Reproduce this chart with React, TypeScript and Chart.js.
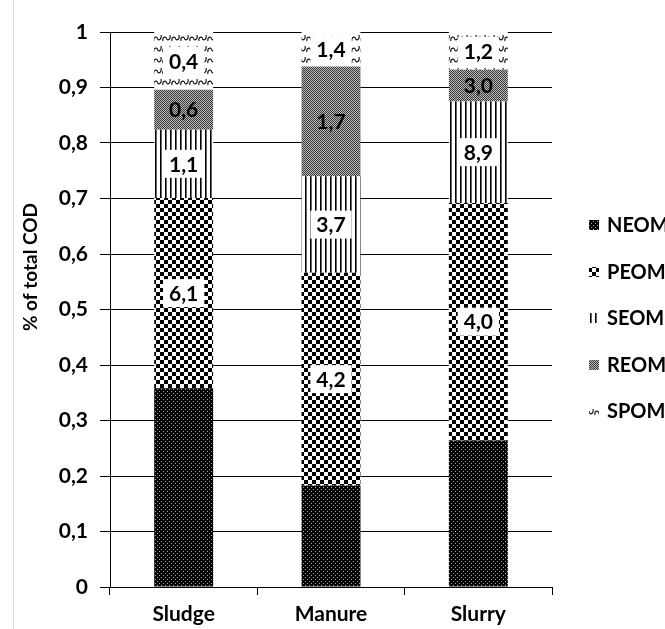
import React, { useEffect, useRef } from "react";
import { Chart, registerables } from "chart.js";

Chart.register(...registerables);

const categories = ["Sludge", "Manure", "Slurry"];
const seriesNames = ["NEOM", "PEOM", "SEOM", "REOM", "SPOM"];
const neom = [0.358, 0.183, 0.264];
const peom = [0.343, 0.383, 0.428];
const seom = [0.123, 0.174, 0.183];
const reom = [0.072, 0.198, 0.057];
const spom = [0.104, 0.062, 0.068];
const neomLabels = ["", "", ""];
const peomLabels = ["6,1", "4,2", "4,0"];
const seomLabels = ["1,1", "3,7", "8,9"];
const reomLabels = ["0,6", "1,7", "3,0"];
const spomLabels = ["0,4", "1,4", "1,2"];
const yTitle = "% of total COD";

const FONT = "Lato, 'Open Sans', sans-serif";

function makePattern(kind: string): CanvasPattern | string {
  const c = document.createElement("canvas");
  let w = 4, h = 4;
  if (kind === "neom") { w = 4; h = 4; }
  if (kind === "peom") { w = 8; h = 8; }
  if (kind === "seom") { w = 5; h = 1; }
  if (kind === "reom") { w = 2; h = 2; }
  if (kind === "spom") { w = 9; h = 11; }
  c.width = w; c.height = h;
  const x = c.getContext("2d")!;
  if (kind === "neom") {
    x.fillStyle = "#000"; x.fillRect(0, 0, w, h);
    x.fillStyle = "#a8a8a8"; x.fillRect(1, 1, 1, 1); x.fillRect(3, 3, 1, 1);
  } else if (kind === "peom") {
    x.fillStyle = "#fff"; x.fillRect(0, 0, w, h);
    x.fillStyle = "#000"; x.fillRect(0, 0, 4, 4); x.fillRect(4, 4, 4, 4);
  } else if (kind === "seom") {
    x.fillStyle = "#fff"; x.fillRect(0, 0, w, h);
    x.fillStyle = "#000"; x.fillRect(0, 0, 1, 1);
    x.fillStyle = "#666"; x.fillRect(1, 0, 1, 1);
  } else if (kind === "reom") {
    x.fillStyle = "#b8b8b8"; x.fillRect(0, 0, w, h);
    x.fillStyle = "#3a3a3a"; x.fillRect(0, 0, 1, 1); x.fillRect(1, 1, 1, 1);
  } else if (kind === "spom") {
    x.fillStyle = "#fff"; x.fillRect(0, 0, w, h);
    x.strokeStyle = "#000"; x.lineWidth = 1.1;
    x.beginPath();
    x.moveTo(1, 8);
    x.bezierCurveTo(0, 4, 4, 3, 4.5, 5.5);
    x.bezierCurveTo(5, 8, 9, 7, 8, 2);
    x.stroke();
  }
  const p = x.createPattern(c, "repeat");
  return p || "#000";
}

export default function App() {
  const ref = useRef<HTMLCanvasElement | null>(null);

  useEffect(() => {
    if (!ref.current) return;
    const pats = ["neom", "peom", "seom", "reom", "spom"].map(makePattern);
    const values = [neom, peom, seom, reom, spom];
    const labelSets = [neomLabels, peomLabels, seomLabels, reomLabels, spomLabels];
    const boxed = [false, true, true, false, true];

    const labelsPlugin = {
      id: "segLabels",
      afterDatasetsDraw(chart: any) {
        const ctx = chart.ctx;
        ctx.save();
        ctx.font = `bold 21px ${FONT}`;
        ctx.textAlign = "center";
        ctx.textBaseline = "middle";
        chart.data.datasets.forEach((ds: any, i: number) => {
          const meta = chart.getDatasetMeta(i);
          meta.data.forEach((el: any, j: number) => {
            const t = labelSets[i][j];
            if (!t) return;
            const cy = (el.y + el.base) / 2;
            const cx = el.x;
            if (boxed[i]) {
              const tw = ctx.measureText(t).width;
              ctx.fillStyle = "#fff";
              ctx.fillRect(cx - tw / 2 - 6, cy - 14, tw + 12, 28);
            }
            ctx.fillStyle = "#000";
            ctx.fillText(t, cx, cy + 1);
          });
        });
        ctx.restore();
      },
    };

    const extrasPlugin = {
      id: "extras",
      afterDraw(chart: any) {
        const ctx = chart.ctx;
        ctx.save();
        ctx.translate(31, 267);
        ctx.rotate(-Math.PI / 2);
        ctx.font = `bold 19px ${FONT}`;
        ctx.fillStyle = "#000";
        ctx.textAlign = "center";
        ctx.textBaseline = "middle";
        ctx.fillText(yTitle, 0, 0);
        ctx.restore();
        ctx.save();
        const ys = [225, 272, 318, 365, 411];
        ctx.font = `bold 20px ${FONT}`;
        ctx.textBaseline = "middle";
        ctx.textAlign = "left";
        chart.data.datasets.forEach((ds: any, i: number) => {
          ctx.fillStyle = ds.backgroundColor;
          ctx.fillRect(589, ys[i] - 5, 10, 10);
          ctx.fillStyle = "#000";
          ctx.fillText(ds.label, 607, ys[i] + 1);
        });
        ctx.restore();
      },
    };

    const chart = new Chart(ref.current, {
      type: "bar",
      data: {
        labels: categories,
        datasets: seriesNames.map((n, i) => ({
          label: n,
          data: values[i],
          backgroundColor: pats[i] as any,
          borderWidth: 0,
          barPercentage: 0.4,
          categoryPercentage: 1,
        })),
      },
      options: {
        animation: false,
        responsive: false,
        maintainAspectRatio: false,
        devicePixelRatio: 1,
        layout: { padding: { left: 0, right: 113, top: 32, bottom: 0 } },
        plugins: { legend: { display: false }, tooltip: { enabled: false } },
        scales: {
          x: {
            stacked: true,
            offset: true,
            grid: { offset: true, drawOnChartArea: false, drawTicks: true, tickLength: 8, color: "#000" },
            border: { display: true, color: "#000", width: 1 },
            ticks: { color: "#000", font: { family: FONT, size: 21, weight: "bold" }, padding: 7 },
            afterFit(scale: any) { scale.height = 42; },
          },
          y: {
            stacked: true,
            min: 0,
            max: 1,
            grid: { color: "#000", lineWidth: 1, tickLength: 10, drawTicks: true },
            border: { display: true, color: "#000", width: 1 },
            ticks: {
              stepSize: 0.1,
              color: "#000",
              padding: 12,
              font: { family: FONT, size: 21, weight: "bold" },
              callback: (v: any) => {
                const n = Number(v);
                if (Math.abs(n) < 1e-9) return "0";
                if (Math.abs(n - 1) < 1e-9) return "1";
                return n.toFixed(1).replace(".", ",");
              },
            },
            afterFit(scale: any) { scale.width = 110; },
          },
        },
      },
      plugins: [labelsPlugin, extrasPlugin],
    });
    return () => chart.destroy();
  }, []);

  return (
    <div style={{ position: "absolute", left: 0, top: 0, width: 665, height: 629, background: "#fff", overflow: "hidden" }}>
      <div style={{ position: "absolute", left: 13, top: 0, width: 1, height: 629, background: "#d9d9d9" }} />
      <canvas ref={ref} width={665} height={629} style={{ position: "absolute", left: 0, top: 0, width: 665, height: 629 }} />
    </div>
  );
}
